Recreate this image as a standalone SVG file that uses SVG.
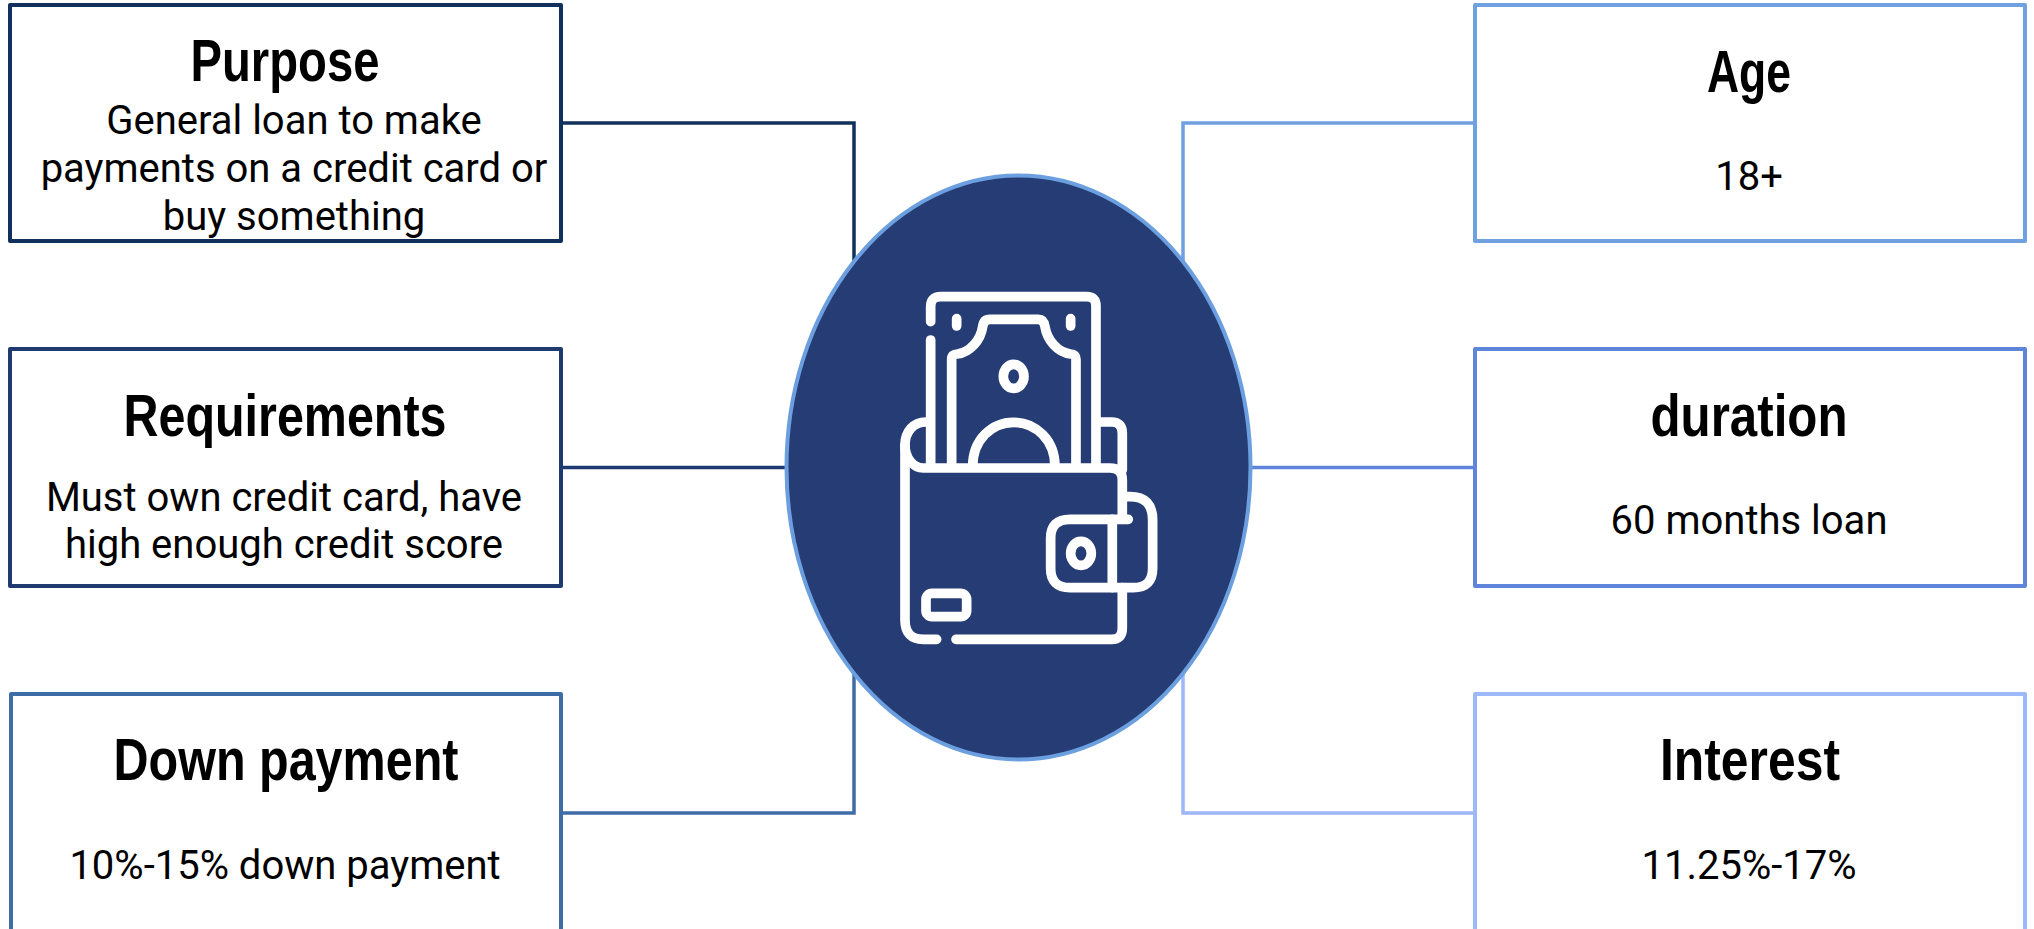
<svg xmlns="http://www.w3.org/2000/svg" width="2034" height="929" viewBox="0 0 2034 929">
<style>
.box{fill:#fff;stroke-width:4;stroke-linejoin:round}
.conn{fill:none;stroke-width:3.5;stroke-linejoin:miter}
.h{font-family:"Liberation Sans Narrow","Liberation Sans",sans-serif;font-weight:700;font-size:60px;text-anchor:middle;fill:#000}
.b{font-family:Roboto,"Liberation Sans",sans-serif;font-size:40px;text-anchor:middle;fill:#000}
.ic{fill:none;stroke:#fff;stroke-width:29;stroke-linecap:round;stroke-linejoin:round}
</style>
<rect width="2034" height="929" fill="#fff"/>
<g id="connectors">
<path class="conn" stroke="#12305c" d="M561 123H854V270"/>
<path class="conn" stroke="#1f3a70" d="M561 467.500H790"/>
<path class="conn" stroke="#3e6ca6" d="M561 813H854V670"/>
<path class="conn" stroke="#6fa0e0" d="M1475 123H1183V270"/>
<path class="conn" stroke="#5e84db" d="M1475 467.500H1250"/>
<path class="conn" stroke="#9cb8f8" d="M1475 813H1183V670"/>
</g>
<g id="node-purpose">
<rect class="box" stroke="#12305c" x="10" y="5" width="551" height="236"/>
<text class="h" x="285" y="81" textLength="189" lengthAdjust="spacingAndGlyphs">Purpose</text>
<text class="b" x="294" y="134">General loan to make</text>
<text class="b" x="294" y="182">payments on a credit card or</text>
<text class="b" x="294" y="230">buy something</text>
</g>
<g id="node-requirements">
<rect class="box" stroke="#1f3a70" x="10" y="349" width="551" height="237"/>
<text class="h" x="285" y="436" textLength="323" lengthAdjust="spacingAndGlyphs">Requirements</text>
<text class="b" x="284" y="511">Must own credit card, have</text>
<text class="b" x="284" y="558">high enough credit score</text>
</g>
<g id="node-down-payment">
<rect class="box" stroke="#3e6ca6" x="11" y="694" width="550" height="240"/>
<text class="h" x="286" y="780" textLength="345" lengthAdjust="spacingAndGlyphs">Down payment</text>
<text class="b" x="285" y="879">10%-15% down payment</text>
</g>
<g id="node-age">
<rect class="box" stroke="#6fa0e0" x="1475" y="5" width="550" height="236"/>
<text class="h" x="1749" y="92" textLength="84" lengthAdjust="spacingAndGlyphs">Age</text>
<text class="b" x="1749" y="190">18+</text>
</g>
<g id="node-duration">
<rect class="box" stroke="#5e84db" x="1475" y="349" width="550" height="237"/>
<text class="h" x="1749" y="436" textLength="197" lengthAdjust="spacingAndGlyphs">duration</text>
<text class="b" x="1749" y="534">60 months loan</text>
</g>
<g id="node-interest">
<rect class="box" stroke="#9cb8f8" x="1475" y="694" width="550" height="240"/>
<text class="h" x="1750" y="780" textLength="180" lengthAdjust="spacingAndGlyphs">Interest</text>
<text class="b" x="1749" y="879">11.25%-17%</text>
</g>
<g id="node-center">
<ellipse cx="1018.500" cy="467.500" rx="232" ry="292" fill="#253c74" stroke="#6c9fdf" stroke-width="4"/>
<g transform="translate(860 270) scale(0.3333)">
<path class="ic" d="M212 155V110Q212 80 242 80H680Q708 80 708 108V590"/>
<path class="ic" d="M212 210V590"/>
<path class="ic" d="M275 590V268Q275 252 292 252C330 248 362 210 368 170Q371 148 390 148H535Q552 148 555 170C561 210 593 248 632 252Q648 252 648 268V590"/>
<ellipse class="ic" cx="461" cy="319" rx="31" ry="36"/>
<path class="ic" d="M338 590C338 510 395 457 461 457C527 457 585 510 585 590"/>
<path class="ic" d="M198 456C160 456 135 485 135 525C135 565 160 594 190 594H750Q787 594 787 630V748"/>
<path class="ic" d="M722 456H755Q787 456 787 490V600"/>
<path class="ic" d="M135 525V1050Q135 1108 190 1108H230"/>
<path class="ic" d="M805 748H630Q572 748 572 805V895Q572 953 630 953H820Q878 953 878 895V750Q878 680 810 680H790"/>
<path class="ic" d="M757 748V953"/>
<ellipse class="ic" cx="663" cy="850" rx="31" ry="36"/>
<path class="ic" d="M787 953V1075Q787 1108 755 1108H288"/>
<rect class="ic" x="198" y="970" width="122" height="70" rx="18"/>
<path class="ic" d="M290 146V168M632 146V168"/>
</g>
</g>
</svg>
